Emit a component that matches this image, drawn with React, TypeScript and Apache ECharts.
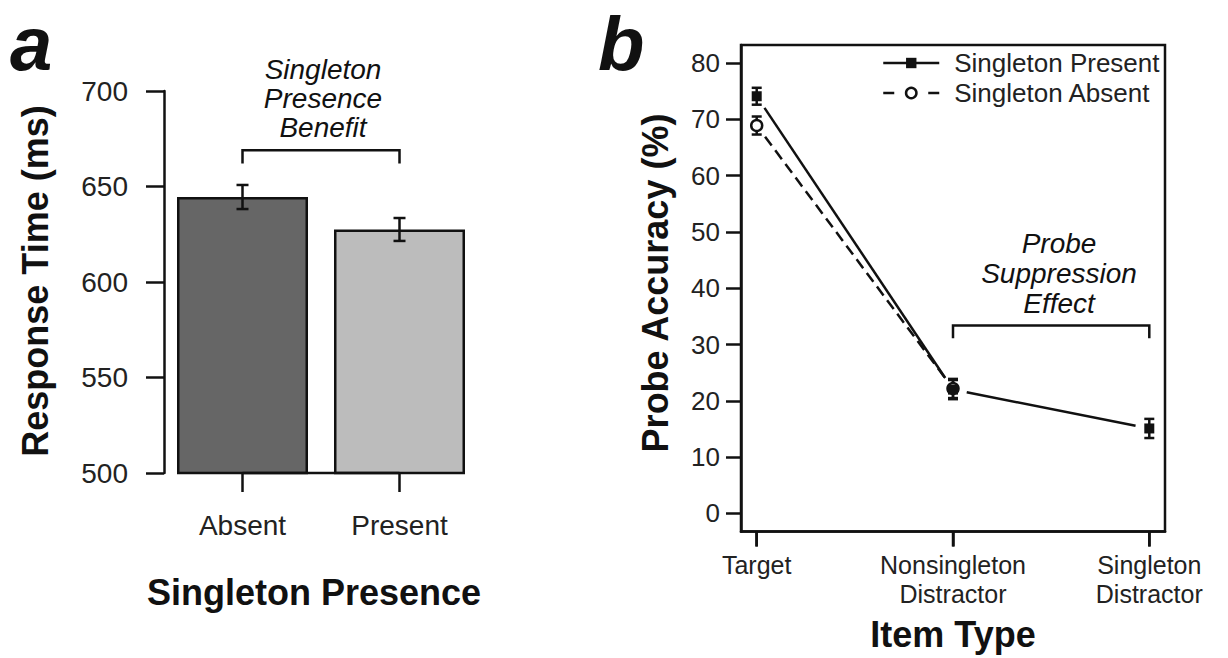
import React, { useEffect, useRef } from 'react';
import * as echarts from 'echarts';

// ---------- Panel a data ----------
const rtCategories = ['Absent', 'Present'];
const rtValues = [644.5, 627.5];
const rtErrors = [6.3, 6.0];
const rtColors = ['#666666', '#bcbcbc'];
const rtAxisMin = 500;
const rtAxisMax = 700;
const rtAxisInterval = 50;
// bracket: [fromCategory, toCategory, barValue, footValue]
const benefitBracket = [0, 1, 669, 662];

// ---------- Panel b data ----------
const itemTypes = ['Target', 'Nonsingleton\nDistractor', 'Singleton\nDistractor'];
const itemPositions = [1, 2, 3];
const presentAcc = [74.1, 22.0, 15.1];
const presentErr = [1.5, 1.7, 1.7];
const absentAcc: (number | null)[] = [68.9, 22.2, null];
const absentErr: (number | null)[] = [1.6, 1.7, null];
const accTicks = [0, 10, 20, 30, 40, 50, 60, 70, 80];
const accMin = -3.2;
const accMax = 83.2;
const posMin = 0.92;
const posMax = 3.08;
const suppressionBracket = [2, 3, 33.4, 31.1];

const FONT = '"Liberation Sans", Arial, Helvetica, sans-serif';
const INK = '#111111';
const LW = 2.5;

function segments(vals: (number | null)[]) {
  const out: number[][] = [];
  for (let i = 0; i < vals.length - 1; i++) {
    const a = vals[i];
    const b = vals[i + 1];
    if (a != null && b != null) out.push([itemPositions[i], a, itemPositions[i + 1], b]);
  }
  return out;
}

function errorBarRender(capHalf: number) {
  return (params: any, api: any) => {
    const x = api.value(0);
    const y = api.value(1);
    const e = api.value(2);
    const hi = api.coord([x, y + e]);
    const lo = api.coord([x, y - e]);
    const st = { stroke: INK, lineWidth: LW };
    return {
      type: 'group',
      children: [
        { type: 'line', shape: { x1: hi[0], y1: hi[1], x2: lo[0], y2: lo[1] }, style: st },
        { type: 'line', shape: { x1: hi[0] - capHalf, y1: hi[1], x2: hi[0] + capHalf, y2: hi[1] }, style: st },
        { type: 'line', shape: { x1: lo[0] - capHalf, y1: lo[1], x2: lo[0] + capHalf, y2: lo[1] }, style: st },
      ],
    };
  };
}

function bracketRender(params: any, api: any) {
  const x0 = api.value(0);
  const x1 = api.value(1);
  const yTop = api.value(2);
  const yFoot = api.value(3);
  const p0 = api.coord([x0, yFoot]);
  const p1 = api.coord([x0, yTop]);
  const p2 = api.coord([x1, yTop]);
  const p3 = api.coord([x1, yFoot]);
  return {
    type: 'polyline',
    shape: { points: [p0, p1, p2, p3] },
    style: { stroke: INK, lineWidth: LW, fill: 'none' },
  };
}

function gappedSegmentRender(dash: number[] | null) {
  return (params: any, api: any) => {
    const a = api.coord([api.value(0), api.value(1)]);
    const b = api.coord([api.value(2), api.value(3)]);
    const dx = b[0] - a[0];
    const dy = b[1] - a[1];
    const len = Math.sqrt(dx * dx + dy * dy);
    const gap = 14;
    const ux = dx / len;
    const uy = dy / len;
    return {
      type: 'line',
      shape: { x1: a[0] + ux * gap, y1: a[1] + uy * gap, x2: b[0] - ux * gap, y2: b[1] - uy * gap },
      style: { stroke: INK, lineWidth: LW, lineDash: dash || undefined },
    };
  };
}

function baselineRender(params: any, api: any) {
  const a = api.coord([api.value(0), api.value(2)]);
  const b = api.coord([api.value(1), api.value(2)]);
  return {
    type: 'line',
    shape: { x1: a[0], y1: a[1], x2: b[0], y2: b[1] },
    style: { stroke: INK, lineWidth: LW },
  };
}

// outward tick below the plot box at a data x position
function bottomTickRender(params: any, api: any) {
  const p = api.coord([api.value(0), api.value(1)]);
  return {
    type: 'line',
    shape: { x1: p[0], y1: p[1], x2: p[0], y2: p[1] + 15 },
    style: { stroke: INK, lineWidth: LW },
  };
}

function txt(text: string, x: number, y: number, font: string, opts: any = {}) {
  return {
    type: 'text',
    x,
    y,
    rotation: opts.rotation || 0,
    silent: true,
    style: {
      text,
      font,
      fill: INK,
      textAlign: opts.align || 'center',
      textVerticalAlign: opts.valign || 'middle',
      align: opts.align || 'center',
      verticalAlign: opts.valign || 'middle',
      lineHeight: opts.lineHeight,
    },
  };
}

export default function App() {
  const ref = useRef<HTMLDivElement>(null);

  useEffect(() => {
    if (!ref.current) return;
    const chart = echarts.init(ref.current, undefined, { renderer: 'svg' });

    const option: any = {
      animation: false,
      backgroundColor: '#ffffff',
      textStyle: { fontFamily: FONT, color: INK },
      grid: [
        { left: 164, top: 91, width: 314, height: 382, show: false },
        { left: 741, top: 45, width: 424, height: 486.5, show: true, borderColor: INK, borderWidth: LW },
      ],
      xAxis: [
        {
          gridIndex: 0,
          type: 'category',
          data: rtCategories,
          boundaryGap: true,
          axisLine: { show: false, onZero: false },
          axisTick: { show: true, alignWithLabel: true, length: 19, lineStyle: { color: INK, width: LW } },
          axisLabel: { fontSize: 28, color: '#222', margin: 38, fontFamily: FONT },
          splitLine: { show: false },
        },
        {
          gridIndex: 1,
          type: 'value',
          min: posMin,
          max: posMax,
          axisLine: { show: true, onZero: false, lineStyle: { color: INK, width: LW } },
          axisTick: { show: true, length: 15, customValues: itemPositions, lineStyle: { color: INK, width: LW } },
          axisLabel: {
            customValues: itemPositions,
            fontSize: 25,
            lineHeight: 29,
            color: '#222',
            margin: 19,
            fontFamily: FONT,
            formatter: (v: number) => {
              const i = itemPositions.indexOf(Math.round(v));
              return i >= 0 ? itemTypes[i] : '';
            },
          },
          splitLine: { show: false },
        },
      ],
      yAxis: [
        {
          gridIndex: 0,
          type: 'value',
          min: rtAxisMin,
          max: rtAxisMax,
          interval: rtAxisInterval,
          axisLine: { show: true, onZero: false, lineStyle: { color: INK, width: LW } },
          axisTick: { show: true, length: 18, lineStyle: { color: INK, width: LW } },
          axisLabel: { fontSize: 28, color: '#222', margin: 36, fontFamily: FONT },
          splitLine: { show: false },
        },
        {
          gridIndex: 1,
          type: 'value',
          min: accMin,
          max: accMax,
          axisLine: { show: true, onZero: false, lineStyle: { color: INK, width: LW } },
          axisTick: { show: true, length: 15, customValues: accTicks, lineStyle: { color: INK, width: LW } },
          axisLabel: { customValues: accTicks, fontSize: 26, color: '#222', margin: 21, fontFamily: FONT },
          splitLine: { show: false },
        },
      ],
      legend: {
        orient: 'vertical',
        left: 882,
        top: 50,
        padding: 0,
        itemWidth: 56,
        itemHeight: 13,
        itemGap: 4,
        selectedMode: false,
        textStyle: { fontSize: 26, color: '#222', fontFamily: FONT, padding: [0, 0, 0, 10] },
        data: [
          { name: 'Singleton Present', lineStyle: { width: LW, color: INK, type: 'solid', opacity: 1 } },
          { name: 'Singleton Absent', lineStyle: { width: LW, color: INK, type: [11, 34], opacity: 1 }, itemStyle: { borderWidth: LW } },
        ],
      },
      series: [
        {
          type: 'bar',
          xAxisIndex: 0,
          yAxisIndex: 0,
          barWidth: 131,
          silent: true,
          data: rtValues.map((v, i) => ({ value: v, itemStyle: { color: rtColors[i] } })),
          itemStyle: { borderColor: INK, borderWidth: LW },
          z: 2,
        },
        {
          type: 'custom',
          name: 'rt-error',
          xAxisIndex: 0,
          yAxisIndex: 0,
          silent: true,
          renderItem: errorBarRender(6),
          encode: { x: 0, y: [1] },
          data: rtValues.map((v, i) => [i, v, rtErrors[i]]),
          z: 4,
        },
        {
          type: 'custom',
          name: 'rt-baseline',
          xAxisIndex: 0,
          yAxisIndex: 0,
          silent: true,
          renderItem: baselineRender,
          encode: { x: [0, 1], y: 2 },
          data: [[0, rtCategories.length - 1, rtAxisMin]],
          z: 5,
        },
        {
          type: 'custom',
          name: 'benefit-bracket',
          xAxisIndex: 0,
          yAxisIndex: 0,
          silent: true,
          renderItem: bracketRender,
          encode: { x: [0, 1], y: [2, 3] },
          data: [benefitBracket],
          z: 4,
        },
        {
          type: 'custom',
          name: 'present-line',
          xAxisIndex: 1,
          yAxisIndex: 1,
          silent: true,
          renderItem: gappedSegmentRender(null),
          encode: { x: [0, 2], y: [1, 3] },
          data: segments(presentAcc),
          z: 3,
        },
        {
          type: 'custom',
          name: 'absent-line',
          xAxisIndex: 1,
          yAxisIndex: 1,
          silent: true,
          renderItem: gappedSegmentRender([11, 6]),
          encode: { x: [0, 2], y: [1, 3] },
          data: segments(absentAcc),
          z: 3,
        },
        {
          type: 'custom',
          name: 'acc-error',
          xAxisIndex: 1,
          yAxisIndex: 1,
          silent: true,
          renderItem: errorBarRender(5),
          encode: { x: 0, y: [1] },
          data: [
            ...itemPositions.map((x, i) => [x, presentAcc[i], presentErr[i]]),
            ...itemPositions
              .map((x, i) => [x, absentAcc[i], absentErr[i]])
              .filter((d) => d[1] != null),
          ],
          z: 4,
        },
        {
          type: 'line',
          name: 'Singleton Absent',
          xAxisIndex: 1,
          yAxisIndex: 1,
          silent: true,
          symbol: 'circle',
          symbolSize: 11,
          showSymbol: true,
          lineStyle: { width: 0, opacity: 0 },
          itemStyle: { color: '#ffffff', borderColor: INK, borderWidth: LW },
          data: itemPositions
            .map((x, i) => [x, absentAcc[i]])
            .filter((d) => d[1] != null),
          z: 5,
        },
        {
          type: 'line',
          name: 'Singleton Present',
          xAxisIndex: 1,
          yAxisIndex: 1,
          silent: true,
          symbol: 'rect',
          symbolSize: 10,
          showSymbol: true,
          lineStyle: { width: 0, opacity: 0 },
          itemStyle: { color: INK },
          data: itemPositions.map((x, i) => [x, presentAcc[i]]),
          z: 6,
        },
        {
          type: 'custom',
          name: 'suppression-bracket',
          xAxisIndex: 1,
          yAxisIndex: 1,
          silent: true,
          renderItem: bracketRender,
          encode: { x: [0, 1], y: [2, 3] },
          data: [suppressionBracket],
          z: 4,
        },
        {
          type: 'custom',
          name: 'item-ticks',
          xAxisIndex: 1,
          yAxisIndex: 1,
          silent: true,
          clip: false,
          renderItem: bottomTickRender,
          encode: { x: 0, y: 1 },
          data: itemPositions.map((x) => [x, accMin]),
          z: 10,
        },
      ],
      graphic: [
        txt('a', 10, 43, `italic bold 76px ${FONT}`, { align: 'left', lineHeight: 76 }),
        txt('b', 598, 43, `italic bold 76px ${FONT}`, { align: 'left', lineHeight: 76 }),
        txt('Response Time (ms)', 35, 281, `bold 36px ${FONT}`, { rotation: Math.PI / 2 }),
        txt('Singleton Presence', 314, 592, `bold 36px ${FONT}`),
        txt('Probe Accuracy (%)', 655, 283, `bold 36px ${FONT}`, { rotation: Math.PI / 2 }),
        txt('Item Type', 953, 634, `bold 36px ${FONT}`),
        txt('Singleton\nPresence\nBenefit', 323, 98, `italic 28px ${FONT}`, { lineHeight: 29 }),
        txt('Probe\nSuppression\nEffect', 1059, 273, `italic 28px ${FONT}`, { lineHeight: 30 }),
      ],
    };

    chart.setOption(option);
    return () => chart.dispose();
  }, []);

  return (
    <div
      ref={ref}
      style={{ position: 'fixed', left: 0, top: 0, width: 1228, height: 658, background: '#fff' }}
    />
  );
}
